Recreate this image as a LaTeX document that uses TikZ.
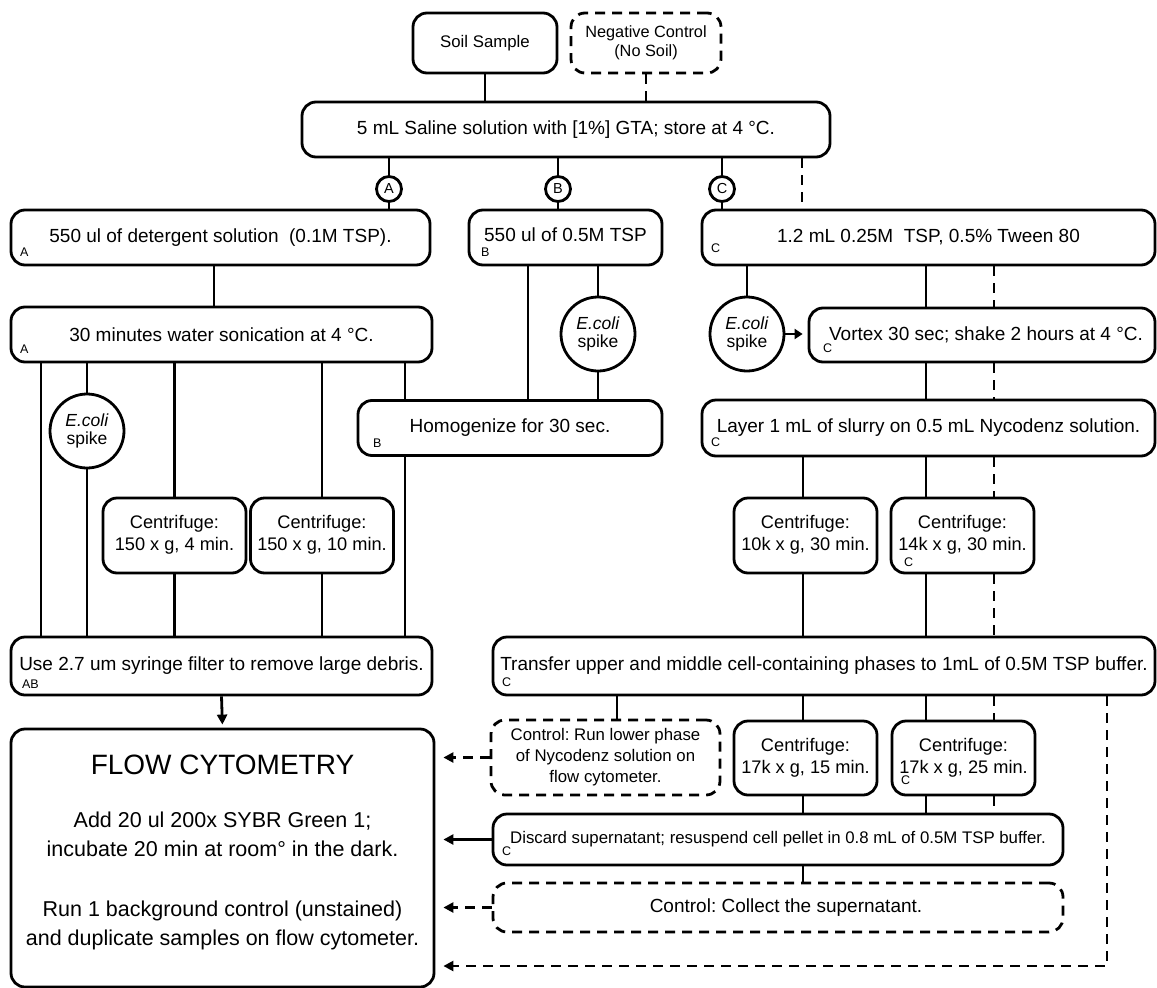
\documentclass[tikz,border=0pt]{standalone}
\usepackage{fontspec}
\setmainfont{Liberation Sans}
\usepackage{tikz}
\usetikzlibrary{positioning, arrows.meta, calc}
\frenchspacing

\newcommand{\liftup}[1]{\raisebox{6pt}{\begin{tabular}{@{}c@{}}#1\end{tabular}}}

\begin{document}
\begin{tikzpicture}[x=1pt, y=-1pt, line width=2.8pt,
  box/.style={draw, rounded corners=14pt, align=center, inner xsep=1pt, inner ysep=2pt, font=\fontsize{19}{22}\selectfont},
  dline/.style={dash pattern=on 10pt off 7pt},
  dbox/.style={box, dline},
  cent/.style={box, minimum width=143pt, minimum height=75pt, font=\fontsize{18.2}{22}\selectfont},
  spike/.style={draw, circle, minimum size=74pt, inner sep=0pt, align=center, font=\fontsize{17.5}{17.5}\selectfont},
  branch/.style={draw, circle, minimum size=25pt, inner sep=0pt, font=\fontsize{14.5}{16}\selectfont},
  tag/.style={anchor=south west, inner sep=0pt, xshift=9pt, yshift=9pt, font=\fontsize{12.5}{13}\selectfont},
  tip/.style={-{Triangle[length=10pt, width=10pt]}, shorten >=8pt}]
  \useasboundingbox (0,0) rectangle (1157,988);

  \node[box, minimum width=144pt, minimum height=60pt, font=\fontsize{16.8}{19}\selectfont] (soil) at (485,43) {Soil Sample};
  \node[dbox, minimum width=150pt, minimum height=60pt, font=\fontsize{16.3}{19}\selectfont] (negctl) at (646,43) {Negative Control\\(No Soil)};
  \node[box, minimum width=528pt, minimum height=55pt] (saline) at (566,129.5) {5 mL Saline solution with [1\%] GTA; store at 4 °C.};
  \foreach \n/\x in {A/389, B/558, C/722}
    \node[branch] (br\n) at (\x,189) {\n};

  \node[box, minimum width=419pt, minimum height=55pt, label={[tag]south west:A}] (detA) at (220.5,237.5) {550 ul of detergent solution \ (0.1M TSP).};
  \node[box, minimum width=193pt, minimum height=55pt, label={[tag, xshift=3pt]south west:B}] (tspB) at (565.5,237.5) {\raisebox{6pt}{550 ul of 0.5M TSP}};
  \node[box, minimum width=453pt, minimum height=55pt, label={[tag, yshift=3pt]south west:C}] (tweenC) at (928.5,237.5) {1.2 mL 0.25M \ TSP, 0.5\% Tween 80};

  \node[box, minimum width=421pt, minimum height=55pt, label={[tag]south west:A}] (sonA) at (221.5,334.5) {30 minutes water sonication at 4 °C.};
  \node[spike] (spikeB) at (598,334) {\textit{E.coli}\\spike};
  \node[spike] (spikeC) at (747,334) {\textit{E.coli}\\spike};
  \node[box, minimum width=346pt, minimum height=54pt, label={[tag, xshift=5pt]south west:C}] (vortexC) at (982,335) {\hspace*{8pt}Vortex 30 sec; shake 2 hours at 4 °C.};

  \node[spike] (spikeA) at (87,431) {\textit{E.coli}\\spike};
  \node[box, minimum width=304pt, minimum height=55pt, label={[tag, xshift=6pt, yshift=-1pt]south west:B}] (homB) at (510,428) {Homogenize for 30 sec.};
  \node[box, minimum width=453pt, minimum height=56pt, label={[tag]south west:C}] (layerC) at (928.5,428) {Layer 1 mL of slurry on 0.5 mL Nycodenz solution.};

  \node[cent] (cf4) at (174.5,535.5) {\liftup{Centrifuge:\\150 x g, 4 min.}};
  \node[cent] (cf10) at (322,535.5) {\liftup{Centrifuge:\\150 x g, 10 min.}};
  \node[cent] (cf10k) at (805.5,535.5) {\liftup{Centrifuge:\\10k x g, 30 min.}};
  \node[cent, label={[tag, xshift=4pt, yshift=-3pt]south west:C}] (cf14k) at (962.5,535.5) {\liftup{Centrifuge:\\14k x g, 30 min.}};

  \node[box, minimum width=421pt, minimum height=58pt, label={[tag, xshift=2pt, yshift=-2pt]south west:AB}] (filterAB) at (221.5,666) {Use 2.7 um syringe filter to remove large debris.};
  \node[box, minimum width=662pt, minimum height=58pt, label={[tag, yshift=-1pt]south west:C}] (transC) at (824,666) {Transfer upper and middle cell-containing phases to 1mL of 0.5M TSP buffer.};

  \node[box, minimum width=423pt, minimum height=258pt] (flow) at (222.5,858) {};
  \node[font=\fontsize{28}{32}\selectfont] (flowtitle) at (222.5,765) {FLOW CYTOMETRY};
  \node[align=center, font=\fontsize{21.5}{29}\selectfont] (flowstain) at (222.5,834) {Add 20 ul 200x SYBR Green 1;\\incubate 20 min at room° in the dark.};
  \node[align=center, font=\fontsize{21.5}{29}\selectfont] (flowrun) at (222.5,925) {Run 1 background control (unstained)\\and duplicate samples on flow cytometer.};

  \node[dbox, minimum width=229pt, minimum height=75pt, font=\fontsize{16.8}{21}\selectfont] (lowctl) at (605.5,757.5) {Control: Run lower phase\\of Nycodenz solution on\\flow cytometer.};
  \node[cent, minimum height=74pt] (cf15) at (805.5,758) {\liftup{Centrifuge:\\17k x g, 15 min.}};
  \node[cent, minimum height=74pt, label={[tag, yshift=1pt]south west:C}] (cf25) at (963.5,758) {\liftup{Centrifuge:\\17k x g, 25 min.}};
  \node[box, minimum width=570pt, minimum height=51pt, font=\fontsize{16.8}{19}\selectfont, label={[tag]south west:C}] (discC) at (778,839.5) {Discard supernatant; resuspend cell pellet in 0.8 mL of 0.5M TSP buffer.};
  \node[dbox, minimum width=570pt, minimum height=49pt] (collect) at (778,907.5) {\hspace*{16pt}Control: Collect the supernatant.};

  \coordinate (lineA) at (214,0);
  \coordinate (bypassA) at (41,0);
  \coordinate (homA) at (405,0);
  \coordinate (homBr) at (528,0);
  \coordinate (lowC) at (617,0);
  \coordinate (ctlN) at (802,0);
  \coordinate (leftC) at (803,0);
  \coordinate (mainC) at (926,0);
  \coordinate (ctlC) at (994,0);
  \coordinate (ctlBend) at (1107,966);

  \draw (soil.south) -- (saline.north -| soil);
  \draw[dline] (negctl.south) -- (saline.north -| negctl);
  \draw (saline.south -| brA) -- (brA.north) (brA.south) -- (detA.north -| brA);
  \draw (saline.south -| brB) -- (brB.north) (brB.south) -- (tspB.north -| brB);
  \draw (saline.south -| brC) -- (brC.north) (brC.south) -- (tweenC.north -| brC);
  \draw[dline] (saline.south -| ctlN) -- (tweenC.north -| ctlN);

  \draw (detA.south -| lineA) -- (sonA.north -| lineA);
  \draw (sonA.south -| bypassA) -- (filterAB.north -| bypassA);
  \draw (sonA.south -| spikeA) -- (spikeA.north) (spikeA.south) -- (filterAB.north -| spikeA);
  \foreach \c in {cf4, cf10}
    \draw (sonA.south -| \c) -- (\c.north) (\c.south) -- (filterAB.north -| \c);
  \draw (sonA.south -| homA) -- (homB.north -| homA) (homB.south -| homA) -- (filterAB.north -| homA);
  \draw (tspB.south -| homBr) -- (homB.north -| homBr);
  \draw (tspB.south -| spikeB) -- (spikeB.north) (spikeB.south) -- (homB.north -| spikeB);
  \draw[tip, shorten >=3pt] (filterAB.south) -- (flow.north);

  \draw (tweenC.south -| spikeC) -- (spikeC.north);
  \draw[-{Triangle[length=8pt, width=10pt]}, shorten >=5pt] (spikeC.east) -- (vortexC.west |- spikeC);
  \draw (tweenC.south -| mainC) -- (vortexC.north -| mainC);
  \draw (vortexC.south -| mainC) -- (layerC.north -| mainC);
  \draw (layerC.south -| leftC) -- (cf10k.north -| leftC) (cf10k.south -| leftC) -- (transC.north -| leftC);
  \draw (layerC.south -| mainC) -- (cf14k.north -| mainC) (cf14k.south -| mainC) -- (transC.north -| mainC);
  \draw (transC.south -| leftC) -- (cf15.north -| leftC) (cf15.south -| leftC) -- (discC.north -| leftC);
  \draw (transC.south -| mainC) -- (cf25.north -| mainC) (cf25.south -| mainC) -- (discC.north -| mainC);
  \draw (transC.south -| lowC) -- (lowctl.north -| lowC);
  \draw (discC.south -| leftC) -- (collect.north -| leftC);
  \draw[dline] (tweenC.south -| ctlC) -- (vortexC.north -| ctlC) (vortexC.south -| ctlC) -- (layerC.north -| ctlC)
    (layerC.south -| ctlC) -- (cf14k.north -| ctlC) (cf14k.south -| ctlC) -- (transC.north -| ctlC)
    (transC.south -| ctlC) -- (cf25.north -| ctlC) (cf25.south -| ctlC) -- (discC.north -| ctlC);

  \draw[tip, dline] (lowctl.west) -- (flow.east |- lowctl.west);
  \draw[tip] (discC.west) -- (flow.east |- discC.west);
  \draw[tip, dline] (collect.west) -- (flow.east |- collect.west);
  \draw[tip, dline] (transC.south -| ctlBend) -- (ctlBend) -- (flow.east |- ctlBend);
\end{tikzpicture}
\end{document}
